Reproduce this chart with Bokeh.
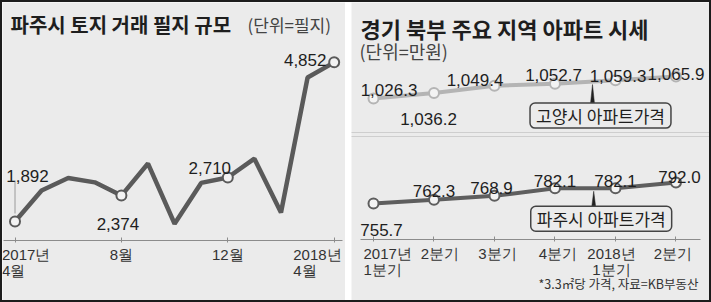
from bokeh.plotting import figure
from bokeh.models import Range1d, Label, FixedTicker, Span
from bokeh.layouts import row
from bokeh.embed import file_html
from bokeh.resources import INLINE

# ---------------- data ----------------
land_months = list(range(13))
land_tick_pos = [0, 4, 8, 12]
land_tick_labels = ["2017년\n4월", "8월", "12월", "2018년\n4월"]
land_parcels = [1892, 2470, 2700, 2620, 2374, 2970, 1850, 2610, 2710, 3060, 2060, 4570, 4852]
land_marked = [0, 4, 8, 12]

quarters = list(range(6))
quarter_labels = ["2017년\n1분기", "2분기", "3분기", "4분기", "2018년\n1분기", "2분기"]
goyang_price = [1026.3, 1036.2, 1049.4, 1052.7, 1059.3, 1065.9]
paju_price = [755.7, 762.3, 768.9, 782.1, 782.1, 792.0]

title_left = "파주시 토지 거래 필지 규모"
unit_left = "(단위=필지)"
title_right = "경기 북부 주요 지역 아파트 시세"
unit_right = "(단위=만원)"
goyang_name = "고양시 아파트가격"
paju_name = "파주시 아파트가격"
source_note = "*3.3㎡당 가격, 자료=KB부동산"

# ---------------- style ----------------
BG = "#ebebeb"
TXT = "#1e1e1e"
NUM_FONT = "Liberation Sans"
KR_FONT = "Noto Sans CJK KR"
AXIS_C = "#8c8c8c"


class PxMap:
    """convert figure-local pixel positions (for annotations) into data units"""
    def __init__(self, p, yr=None):
        self.p = p
        self.xr = p.x_range
        self.yr = yr if yr is not None else p.y_range

    def x(self, px):
        return self.xr.start + px / self.p.width * (self.xr.end - self.xr.start)

    def y(self, py):
        return self.yr.end - py / self.p.height * (self.yr.end - self.yr.start)

    def dy(self, n):
        return n / self.p.height * (self.yr.end - self.yr.start)

    def dx(self, n):
        return n / self.p.width * (self.xr.end - self.xr.start)


def make_fig(w, h, xr, yr):
    p = figure(width=w, height=h, x_range=xr, y_range=yr, output_backend="svg",
               toolbar_location=None, y_axis_location=None,
               min_border=0, min_border_left=0, min_border_right=0, min_border_top=0, min_border_bottom=0,
               background_fill_color=BG, border_fill_color=BG, outline_line_color=None)
    p.grid.visible = False
    return p


def style_axis(p, ticks, loc, bounds):
    ax = p.xaxis[0]
    ax.fixed_location = loc
    ax.bounds = bounds
    ax.ticker = FixedTicker(ticks=ticks)
    ax.axis_line_color = AXIS_C
    ax.axis_line_width = 1
    ax.major_tick_line_color = AXIS_C
    ax.major_tick_in = 3
    ax.major_tick_out = 2
    ax.minor_tick_line_color = None
    ax.major_label_text_color = None


# ================= LEFT: land parcels =================
pL = make_fig(343, 298, Range1d(-0.47, 12.425), Range1d(422.6, 5965.4))
mL = PxMap(pL)
L_AXIS = mL.y(238)
style_axis(pL, land_tick_pos, L_AXIS, (mL.x(1), mL.x(340)))

pL.line(land_months, land_parcels, line_color="#5a5a5a", line_width=4.5)
pL.segment(x0=[land_months[0]], y0=[land_parcels[0] + mL.dy(8)],
           x1=[land_months[0]], y1=[land_parcels[0] + mL.dy(41)],
           line_color="#9a9a9a", line_width=1)
pL.scatter([land_months[i] for i in land_marked], [land_parcels[i] for i in land_marked],
           size=10, fill_color="#f3f3f3", line_color="#5a5a5a", line_width=2)

left_label_off = {0: (12.5, 46), 4: (-3.5, -28), 8: (-18, 10), 12: (-29, 2)}
for i in land_marked:
    dx, dy = left_label_off[i]
    pL.add_layout(Label(x=land_months[i], y=land_parcels[i], text=f"{land_parcels[i]:,}",
                        x_offset=dx, y_offset=dy, text_align="center", text_baseline="alphabetic",
                        text_font=NUM_FONT, text_font_size="17px", text_color=TXT))

left_tick_style = [("left", -13), ("center", 0), ("center", 0), ("left", -41)]
for pos, lab, (al, dx) in zip(land_tick_pos, land_tick_labels, left_tick_style):
    pL.add_layout(Label(x=pos, y=L_AXIS, text=lab, x_offset=dx, y_offset=-5,
                        text_align=al, text_baseline="top", text_line_height=0.98,
                        text_font=NUM_FONT, text_font_size="15px", text_color="#333333"))

pL.add_layout(Label(x=mL.x(8), y=mL.y(22), text=title_left,
                    text_align="left", text_baseline="alphabetic", text_font=KR_FONT,
                    text_font_style="bold", text_font_size="20px", text_color=TXT))
pL.add_layout(Label(x=mL.x(245), y=mL.y(22), text=unit_left,
                    text_align="left", text_baseline="alphabetic", text_font=KR_FONT,
                    text_font_size="17px", text_color="#444444"))

# ================= RIGHT: apartment prices =================
pR = make_fig(358, 298, Range1d(-0.3636, 5.554), Range1d(587.9, 1103.4))
pR.extra_y_ranges = {"goyang": Range1d(662.7, 1199.1)}
mR = PxMap(pR)
mG = PxMap(pR, pR.extra_y_ranges["goyang"])
R_AXIS = mR.y(237)
style_axis(pR, quarters, R_AXIS, (mR.x(9), mR.x(349)))

GOY_C = "#b4b4b4"
PAJU_C = "#5e5e5e"
pR.line(quarters, goyang_price, y_range_name="goyang", line_color=GOY_C, line_width=4)
pR.scatter(quarters, goyang_price, y_range_name="goyang", size=10, fill_color="#f3f3f3",
           line_color=GOY_C, line_width=2)
pR.line(quarters, paju_price, line_color=PAJU_C, line_width=4)
pR.scatter(quarters, paju_price, size=10, fill_color="#f3f3f3", line_color=PAJU_C, line_width=2)

goy_off = [(15.5, 9), (-5.5, -26), (-19.5, 6), (-1.5, 9), (2.5, 4), (0, 3)]
for q, v, (dx, dy) in zip(quarters, goyang_price, goy_off):
    pR.add_layout(Label(x=q, y=v, y_range_name="goyang", text=f"{v:,.1f}", x_offset=dx, y_offset=dy,
                        text_align="center", text_baseline="alphabetic", text_font=NUM_FONT,
                        text_font_size="17px", text_color=TXT))
paju_off = [(8, -27), (0, 9), (-3, 8), (0, 7), (0, 7), (3.5, 6)]
for q, v, (dx, dy) in zip(quarters, paju_price, paju_off):
    pR.add_layout(Label(x=q, y=v, text=f"{v:,.1f}", x_offset=dx, y_offset=dy,
                        text_align="center", text_baseline="alphabetic", text_font=NUM_FONT,
                        text_font_size="17px", text_color=TXT))


def legend_box(name, series, y_range_name, m, anchor, box_dx, box_dy):
    i0 = int(anchor)
    frac = anchor - i0
    v = series[i0] + frac * (series[i0 + 1] - series[i0])
    top = v - m.dy(3)
    box_top = v - m.dy(box_dy - 10)
    kw = {} if y_range_name is None else {"y_range_name": y_range_name}
    pR.patch([anchor - m.dx(2.2), anchor + m.dx(2.2), anchor],
             [box_top, box_top, top], fill_color="#222222", line_color="#222222", line_width=0.5, **kw)
    pR.add_layout(Label(x=anchor, y=v, text=name, x_offset=box_dx, y_offset=-box_dy,
                        text_align="center", text_baseline="middle", text_font=KR_FONT,
                        text_font_size="17px", text_color=TXT, border_line_color="#444444",
                        border_line_width=1.5, background_fill_color=BG, border_radius=5,
                        padding=(6, 0), **kw))


legend_box(goyang_name, goyang_price, "goyang", mG, 3.62, 8, 34)
legend_box(paju_name, paju_price, None, mR, 3.64, 7.5, 30.5)

for ypx in (130, 134):
    pR.add_layout(Span(location=mR.y(ypx), dimension="width",
                       line_color="#b0b0b0", line_width=1, line_dash="1 1"))

pR.add_layout(Label(x=mR.x(9), y=mR.y(25), text=title_right,
                    text_align="left", text_baseline="alphabetic", text_font=KR_FONT,
                    text_font_style="bold", text_font_size="22px", text_color=TXT))
pR.add_layout(Label(x=mR.x(8), y=mR.y(48), text=unit_right,
                    text_align="left", text_baseline="alphabetic", text_font=KR_FONT,
                    text_font_size="18px", text_color="#444444"))

right_tick_style = [("left", -10), ("center", 6), ("center", 3), ("center", 3), ("center", -4), ("center", -3)]
for q, lab, (al, dx) in zip(quarters, quarter_labels, right_tick_style):
    pR.add_layout(Label(x=q, y=R_AXIS, text=lab, x_offset=dx, y_offset=-5,
                        text_align=al, text_baseline="top", text_line_height=0.98,
                        text_font=NUM_FONT, text_font_size="15px", text_color="#333333"))

pR.add_layout(Label(x=mR.x(347), y=mR.y(281), text=source_note,
                    text_align="right", text_baseline="middle", text_font=KR_FONT,
                    text_font_size="12.5px", text_color="#333333"))

layout = row(pL, pR, spacing=6,
             styles={"border": "2px solid #1c1c1c", "background-color": "#ffffff"})

open("out.html", "w").write(file_html(layout, INLINE))
